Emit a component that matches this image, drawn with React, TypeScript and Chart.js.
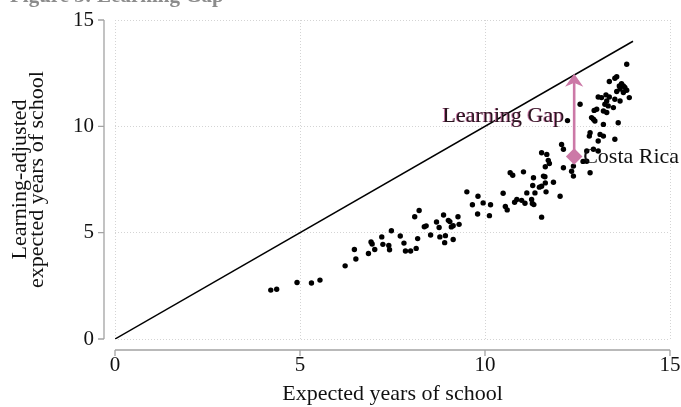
import { useEffect, useRef } from "react";
import { Chart, registerables } from "chart.js";

Chart.register(...registerables);

// ---- data ----
const EXPECTED_YEARS = [
  4.21, 4.37, 4.92, 5.31, 5.54, 6.22, 6.47, 6.51, 6.85, 6.92, 6.95, 7.02, 7.21, 7.24, 7.4, 7.42,
  7.47, 7.71, 7.81, 7.85, 7.99, 8.14, 8.18, 8.1, 8.22, 8.36, 8.41, 8.53, 8.69, 8.76, 8.78, 8.88,
  8.93, 8.91, 9.01, 9.05, 9.09, 9.14, 9.14, 9.27, 9.3, 9.51, 9.81, 9.66, 9.95, 10.15, 9.8, 10.12,
  10.49, 10.55, 10.6, 10.68, 10.75, 11.04, 10.8, 10.86, 10.99, 11.08, 11.13, 11.26, 11.28, 11.32,
  11.31, 11.29, 11.35, 11.47, 11.53, 11.58, 11.62, 11.63, 11.65, 11.63, 11.71, 11.74, 11.53, 11.67,
  11.85, 12.03, 11.53, 12.12, 12.07, 12.12, 12.34, 12.39, 12.39, 12.23, 12.57, 12.75, 12.93, 13.06,
  12.75, 12.84, 12.82, 12.84, 13.11, 13.2, 13.06, 13.51, 12.93, 13.2, 12.88, 12.97, 13.6, 13.02,
  12.95, 13.2, 13.29, 13.24, 13.33, 13.47, 13.06, 13.15, 13.27, 13.36, 13.51, 13.65, 13.29, 13.9,
  13.56, 13.74, 13.65, 13.83, 13.78, 13.63, 13.74, 13.69, 13.36, 13.51, 13.56, 13.83, 12.65,
];
const LEARNING_ADJUSTED = [
  2.3, 2.34, 2.66, 2.63, 2.77, 3.44, 4.21, 3.76, 4.02, 4.56, 4.47, 4.21, 4.8, 4.45, 4.4, 4.2,
  5.09, 4.84, 4.51, 4.14, 4.14, 4.26, 4.72, 5.75, 6.04, 5.28, 5.32, 4.89, 5.5, 5.24, 4.8, 5.83,
  4.86, 4.53, 5.58, 5.52, 5.27, 5.33, 4.68, 5.75, 5.39, 6.92, 6.71, 6.31, 6.4, 6.31, 5.88, 5.8,
  6.85, 6.23, 6.07, 7.82, 7.7, 7.86, 6.43, 6.56, 6.52, 6.38, 6.87, 6.56, 6.37, 6.32,
  7.58, 7.22, 6.87, 7.14, 7.18, 7.66, 7.63, 7.34, 6.92, 8.1, 8.4, 8.25, 8.76, 8.68,
  7.37, 6.71, 5.73, 8.92, 9.15, 8.05, 7.89, 7.66, 8.13, 10.27, 11.04, 8.84, 8.92, 8.84,
  8.36, 7.82, 9.54, 9.7, 9.62, 9.54, 9.31, 9.39, 10.33, 10.09, 10.41, 10.25, 10.17, 10.8,
  10.75, 10.72, 10.65, 11.04, 10.96, 10.88, 11.38, 11.35, 11.48, 11.38, 11.27, 11.19, 11.19, 11.35,
  11.64, 11.59, 11.75, 11.7, 11.83, 11.9, 11.9, 12.01, 12.11, 12.26, 12.33, 12.92, 8.35,
];
const PARITY_LINE_X = [0, 14];
const PARITY_LINE_Y = [0, 14];
const TICK_VALUES = [0, 5, 10, 15];
const HIGHLIGHT_NAME = "Costa Rica";
const HIGHLIGHT_X = 12.41;
const HIGHLIGHT_Y = 8.58;
const GAP_LABEL = "Learning Gap";
const CHART_TITLE = "Figure 3: Learning Gap";
const X_TITLE = "Expected years of school";
const Y_TITLE = ["Learning-adjusted", "expected years of school"];

const FONT = "'Liberation Serif', 'Times New Roman', serif";
const PINK = "#CC79A7";
const AXIS_GREY = "#a3a3a3";

const decorations = {
  id: "decorations",
  beforeDatasetsDraw(chart: any) {
    const { ctx, chartArea } = chart;
    const xs = chart.scales.x;
    const ys = chart.scales.y;
    ctx.save();
    ctx.strokeStyle = AXIS_GREY;
    ctx.lineWidth = 1.3;
    // offset y axis
    const axX = chartArea.left - 11;
    ctx.beginPath();
    ctx.moveTo(axX, ys.getPixelForValue(TICK_VALUES[TICK_VALUES.length - 1]));
    ctx.lineTo(axX, ys.getPixelForValue(TICK_VALUES[0]));
    TICK_VALUES.forEach((v) => {
      const p = ys.getPixelForValue(v);
      ctx.moveTo(axX - 6, p);
      ctx.lineTo(axX, p);
    });
    // offset x axis
    const axY = chartArea.bottom + 11;
    ctx.moveTo(xs.getPixelForValue(TICK_VALUES[0]), axY);
    ctx.lineTo(xs.getPixelForValue(TICK_VALUES[TICK_VALUES.length - 1]), axY);
    TICK_VALUES.forEach((v) => {
      const p = xs.getPixelForValue(v);
      ctx.moveTo(p, axY);
      ctx.lineTo(p, axY + 6);
    });
    ctx.stroke();

    // title (partly cut off at top, as in the reference)
    ctx.fillStyle = "#8c8c8c";
    ctx.font = `bold 21px ${FONT}`;
    ctx.textAlign = "left";
    ctx.textBaseline = "alphabetic";
    ctx.fillText(CHART_TITLE, 10, 1.5);

    // y title, two rotated lines
    ctx.fillStyle = "#111";
    ctx.font = `22px ${FONT}`;
    ctx.textAlign = "center";
    ctx.textBaseline = "middle";
    const cy = (chartArea.top + chartArea.bottom) / 2;
    const lineX = [20, 37];
    Y_TITLE.forEach((t, i) => {
      ctx.save();
      ctx.translate(lineX[i], cy);
      ctx.rotate(-Math.PI / 2);
      ctx.fillText(t, 0, 0);
      ctx.restore();
    });
    ctx.restore();
  },
  afterDatasetsDraw(chart: any) {
    const { ctx } = chart;
    const xs = chart.scales.x;
    const ys = chart.scales.y;
    const ax = xs.getPixelForValue(HIGHLIGHT_X);
    const yBottom = ys.getPixelForValue(HIGHLIGHT_Y);
    const yTop = ys.getPixelForValue(HIGHLIGHT_X); // parity line y = x
    ctx.save();
    ctx.strokeStyle = PINK;
    ctx.fillStyle = PINK;
    ctx.lineWidth = 2.6;
    ctx.beginPath();
    ctx.moveTo(ax, yBottom);
    ctx.lineTo(ax, yTop + 6);
    ctx.stroke();
    ctx.beginPath();
    ctx.moveTo(ax, yTop);
    ctx.lineTo(ax - 7, yTop + 10);
    ctx.lineTo(ax, yTop + 7);
    ctx.lineTo(ax + 7, yTop + 10);
    ctx.closePath();
    ctx.fill();
    ctx.lineWidth = 1.5;
    ctx.lineJoin = "miter";
    ctx.stroke();

    // diamond marker
    ctx.beginPath();
    const r = 8.3;
    ctx.moveTo(ax, yBottom - r);
    ctx.lineTo(ax + r, yBottom);
    ctx.lineTo(ax, yBottom + r);
    ctx.lineTo(ax - r, yBottom);
    ctx.closePath();
    ctx.fill();

    // labels
    ctx.font = `22px ${FONT}`;
    ctx.textBaseline = "middle";
    ctx.textAlign = "left";
    ctx.fillStyle = "#111";
    ctx.fillText(HIGHLIGHT_NAME, ax + 9, yBottom + 1);

    const midY = (yTop + yBottom) / 2;
    ctx.textAlign = "right";
    ctx.fillStyle = PINK;
    ctx.fillText(GAP_LABEL, ax - 11, midY + 0.5);
    ctx.fillStyle = "#2a1520";
    ctx.fillText(GAP_LABEL, ax - 10, midY);
    ctx.restore();
  },
};

export default function App() {
  const ref = useRef<HTMLCanvasElement | null>(null);

  useEffect(() => {
    document.body.style.margin = "0";
    if (!ref.current) return;
    const points = EXPECTED_YEARS.map((x, i) => ({ x, y: LEARNING_ADJUSTED[i] }));
    const line = PARITY_LINE_X.map((x, i) => ({ x, y: PARITY_LINE_Y[i] }));
    const tickFont = { family: FONT, size: 21 };
    const chart = new Chart(ref.current, {
      type: "scatter",
      data: {
        datasets: [
          {
            label: "Countries",
            data: points,
            backgroundColor: "#000",
            borderWidth: 0,
            pointRadius: 2.7,
            pointHoverRadius: 2.7,
          },
          {
            type: "line",
            label: "Parity",
            data: line,
            borderColor: "#000",
            borderWidth: 1.5,
            pointRadius: 0,
            fill: false,
          } as any,
        ],
      },
      options: {
        animation: false,
        responsive: false,
        events: [],
        layout: { padding: { left: 0, right: 11, top: 20, bottom: 0 } },
        plugins: {
          legend: { display: false },
          tooltip: { enabled: false },
          title: { display: false },
        },
        scales: {
          x: {
            type: "linear",
            min: 0,
            max: 15,
            afterFit: (s: any) => {
              s.height = 68;
              s.paddingLeft = 0;
              s.paddingRight = 0;
            },
            afterBuildTicks: (s: any) => {
              s.ticks = TICK_VALUES.map((v) => ({ value: v }));
            },
            ticks: { font: tickFont, color: "#111", padding: 14, maxRotation: 0 },
            grid: { color: "#d4d4d4", lineWidth: 1, drawTicks: false },
            border: { display: false, dash: [1, 2] },
            title: {
              display: true,
              text: X_TITLE,
              font: { family: FONT, size: 22 },
              color: "#111",
              padding: { top: 0, bottom: 0 },
            },
          },
          y: {
            type: "linear",
            min: 0,
            max: 15,
            afterFit: (s: any) => {
              s.width = 115;
              s.paddingTop = 0;
              s.paddingBottom = 0;
            },
            afterBuildTicks: (s: any) => {
              s.ticks = TICK_VALUES.map((v) => ({ value: v }));
            },
            ticks: { font: tickFont, color: "#111", padding: 21 },
            grid: { color: "#d4d4d4", lineWidth: 1, drawTicks: false },
            border: { display: false, dash: [1, 2] },
          },
        },
      },
      plugins: [decorations],
    });
    return () => chart.destroy();
  }, []);

  return (
    <div style={{ width: 681, height: 407 }}>
      <canvas ref={ref} width={681} height={407} style={{ display: "block" }} />
    </div>
  );
}
